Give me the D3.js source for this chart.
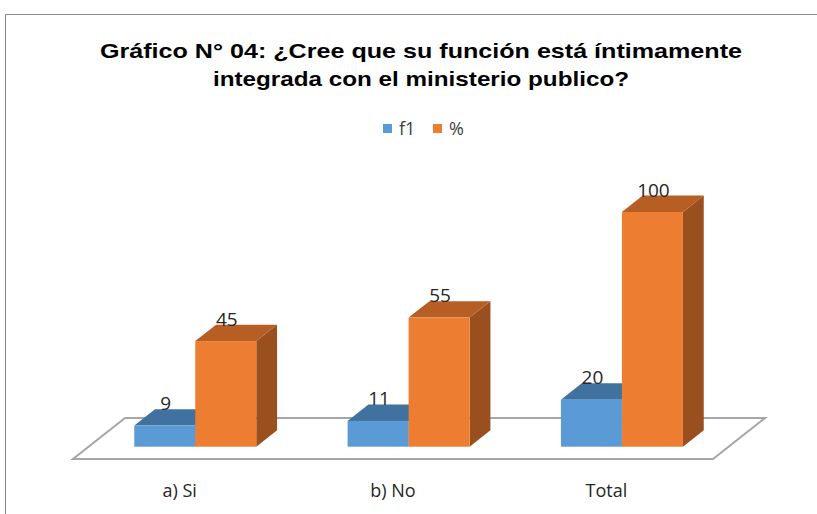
<!DOCTYPE html>
<html><head><meta charset="utf-8">
<script src="https://cdn.jsdelivr.net/npm/d3@7"></script>
<style>body{margin:0;background:#fff}svg{display:block}</style>
</head><body>
<script>
const categories = ["a) Si", "b) No", "Total"];
const seriesNames = ["f1", "%"];
const f1Values = [9, 11, 20];
const pctValues = [45, 55, 100];
const titleLines = ["Gráfico N° 04: ¿Cree que su función está íntimamente", "integrada con el ministerio publico?"];

const W = 817, H = 514;
const svg = d3.select("body").append("svg").attr("width", W).attr("height", H);

// chart border
svg.append("rect").attr("x", 5.5).attr("y", 14.5).attr("width", 840).attr("height", 540)
  .attr("fill", "#fff").attr("stroke", "#8c8c8c").attr("stroke-width", 1);

// title
const titleWidths = [642, 416];
svg.append("g").selectAll("text").data(titleLines).join("text")
  .attr("x", 421).attr("y", (d, i) => 58 + i * 28).attr("text-anchor", "middle")
  .attr("font-family", "Liberation Sans, Arial, sans-serif").attr("font-weight", "bold")
  .attr("font-size", 21).attr("fill", "#000")
  .attr("textLength", (d, i) => titleWidths[i]).attr("lengthAdjust", "spacingAndGlyphs")
  .text(d => d);

// legend
const colors = {f1: {front: "#5b9bd5", top: "#41729f", side: "#3f6e99"},
                "%": {front: "#ed7d31", top: "#b65e23", side: "#9a4f1e"}};
const legend = [{name: "f1", x: 383}, {name: "%", x: 433}];
const lg = svg.append("g");
legend.forEach(l => {
  lg.append("rect").attr("x", l.x).attr("y", 124).attr("width", 9).attr("height", 9).attr("fill", colors[l.name].front);
  lg.append("text").attr("x", l.x + 16).attr("y", 135).attr("font-family", "Open Sans, sans-serif")
    .attr("font-size", 18).attr("fill", "#404040").text(l.name);
});

// geometry
const floorFront = 459, depth = [52, -41];
const x0 = d3.scaleBand().domain(categories).range([73, 713]);
const groupW = x0.bandwidth() * 0.572;
const x1 = d3.scaleBand().domain(seriesNames).range([0, groupW]);
const barOff = [depth[0] * 0.3, depth[1] * 0.3];
const barDepth = [depth[0] * 0.4, depth[1] * 0.4];
const y = d3.scaleLinear().domain([0, 100]).range([floorFront + barOff[1], 212]);

// floor
const fx0 = x0.range()[0], fx1 = x0.range()[1];
svg.append("path")
  .attr("d", `M${fx0},${floorFront}L${fx1},${floorFront}L${fx1 + depth[0]},${floorFront + depth[1]}L${fx0 + depth[0]},${floorFront + depth[1]}Z`)
  .attr("fill", "#fff").attr("stroke", "#a6a6a6").attr("stroke-width", 2);

function bar(g, xl, w, v, c) {
  const xr = xl + w, yb = y(0), yt = y(v), dx = barDepth[0], dy = barDepth[1];
  g.append("path").attr("d", `M${xr},${yt}L${xr + dx},${yt + dy}L${xr + dx},${yb + dy}L${xr},${yb}Z`).attr("fill", c.side);
  g.append("path").attr("d", `M${xl},${yt}L${xl + dx},${yt + dy}L${xr + dx},${yt + dy}L${xr},${yt}Z`).attr("fill", c.top);
  g.append("rect").attr("x", xl).attr("y", yt).attr("width", w).attr("height", yb - yt).attr("fill", c.front);
}

const data = categories.map((c, i) => ({cat: c, vals: [f1Values[i], pctValues[i]]}));
data.forEach(d => {
  const g = svg.append("g");
  const gx = x0(d.cat) + (x0.bandwidth() - groupW) / 2 + barOff[0];
  seriesNames.forEach((s, j) => {
    bar(g, gx + x1(s), x1.bandwidth(), d.vals[j], colors[s]);
  });
  seriesNames.forEach((s, j) => {
    const cx = gx + x1(s) + x1.bandwidth() / 2 + 1;
    g.append("text").attr("x", cx).attr("y", y(d.vals[j]) + barDepth[1] + 1)
      .attr("text-anchor", "middle").attr("font-family", "Open Sans, sans-serif")
      .attr("font-size", 19).attr("fill", "#262626").text(d.vals[j]);
  });
});

// category labels
svg.append("g").selectAll("text").data(categories).join("text")
  .attr("x", d => x0(d) + x0.bandwidth() / 2).attr("y", 497)
  .attr("text-anchor", "middle").attr("font-family", "Liberation Sans Narrow, Open Sans, sans-serif")
  .attr("font-size", 18).attr("fill", "#262626").text(d => d);
</script>
</body></html>
